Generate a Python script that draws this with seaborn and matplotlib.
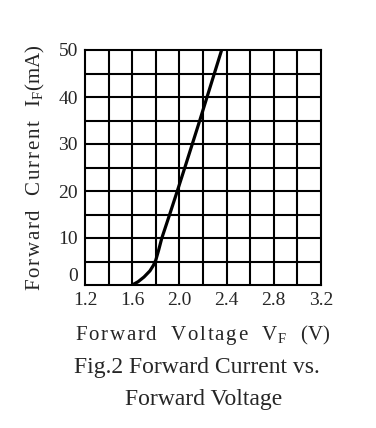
import matplotlib
matplotlib.use("Agg")
import matplotlib.pyplot as plt
import seaborn as sns
import pandas as pd
import numpy as np

# curve
vf = [1.60, 1.65, 1.70, 1.75, 1.78, 1.80, 1.825, 1.85, 1.92, 1.99, 2.05, 2.17, 2.358]
i_f = [0.0, 0.7, 1.7, 3.0, 4.2, 5.3, 7.5, 9.9, 15.2, 20.6, 25.3, 34.8, 50.0]

x_ticks = [1.2, 1.6, 2.0, 2.4, 2.8, 3.2]
y_ticks = [0, 10, 20, 30, 40, 50]
x_grid = np.arange(1.4, 3.2, 0.2)
y_grid = np.arange(5, 50, 5)

sns.set_style("white")
plt.rcParams['font.family'] = ['Liberation Serif', 'DejaVu Serif']
plt.rcParams['mathtext.fontset'] = 'custom'
plt.rcParams['mathtext.rm'] = 'Liberation Serif'

df = pd.DataFrame({'vf': vf, 'if': i_f})


def spaced(s, sep='\u200a'):
    return sep.join(s)


fig = plt.figure(figsize=(3.76, 4.28), dpi=100)
ax = fig.add_axes([85 / 376, 1 - 285 / 428, 236 / 376, 235 / 428])

for x in x_grid:
    ax.axvline(x, color='black', lw=1.5, zorder=1)
for y in y_grid:
    ax.axhline(y, color='black', lw=1.5, zorder=1)

sns.lineplot(data=df, x='vf', y='if', ax=ax, color='black', lw=2.3, zorder=3)

ax.set_xlim(1.2, 3.2)
ax.set_ylim(0, 50)
ax.set_xticks(x_ticks)
ax.set_xticklabels(["%.1f" % t for t in x_ticks])
ax.set_yticks(y_ticks)
ax.set_yticklabels([str(t) for t in y_ticks])
ax.tick_params(length=0, labelsize=14, pad=5)
ax.get_yticklabels()[0].set_va('bottom')
for s in ax.spines.values():
    s.set_visible(True)
    s.set_color('black')
    s.set_linewidth(1.5)

ax.set_xlabel("")
ax.set_ylabel("")

gap = "\u2002\u2009"
ylab = spaced("Forward") + gap + spaced("Current") + gap + "I$_\\mathrm{F}$(mA)"
xlab = spaced("Forward") + gap + spaced("Voltage") + gap + "V$_\\mathrm{F}$" + gap + "(V)"
fig.text(35 / 376, 1 - 168 / 428, ylab,
         rotation=90, ha='center', va='center', fontsize=15)
fig.text(203 / 376, 1 - 335 / 428, xlab,
         ha='center', va='center', fontsize=15)
fig.text(197 / 376, 1 - 367 / 428, "Fig.2 Forward Current vs.",
         ha='center', va='center', fontsize=17)
fig.text(204 / 376, 1 - 400 / 428, "Forward Voltage",
         ha='center', va='center', fontsize=17)

plt.savefig("out.png", dpi=100)
